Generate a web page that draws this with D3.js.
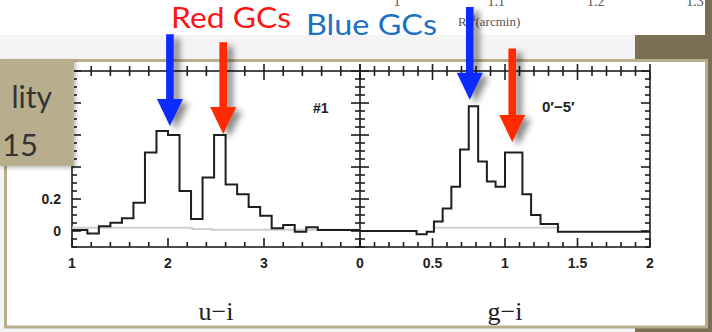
<!DOCTYPE html>
<html><head><meta charset="utf-8">
<script src="https://cdn.jsdelivr.net/npm/d3@7"></script>
<style>html,body{margin:0;padding:0;background:#f4f4f4;overflow:hidden}</style>
</head><body><svg id="c" width="712" height="332"></svg>
<script>
// ---------- data ----------
const uiEdges  = [1.0,1.16,1.28,1.40,1.52,1.64,1.76,1.88,2.00,2.12,2.24,2.36,2.48,2.60,2.72,2.84,2.96,3.08,3.20,3.32,3.44,3.56,4.0];
const uiValues = [0.006,-0.015,0.03,0.052,0.08,0.177,0.49,0.625,0.60,0.25,0.075,0.335,0.60,0.29,0.23,0.15,0.096,0.017,0.037,-0.005,0.023,0.006];
const uiBgEdges  = [1.0,2.25,2.45,4.0];
const uiBgValues = [0.02,0.012,0.008];
const giEdges  = [0,0.39,0.46,0.51,0.57,0.63,0.69,0.75,0.815,0.875,0.935,1.0,1.12,1.18,1.245,1.365,2.0];
const giValues = [0,-0.02,-0.004,0.06,0.14,0.277,0.51,0.78,0.435,0.31,0.277,0.49,0.23,0.10,0.044,-0.004];
const giBgEdges  = [0.5,1.38];
const giBgValues = [0.02];
const uiTickLabels = [1,2,3];
const giTickLabels = [0,0.5,1,1.5,2];
const yTickLabels  = [0,0.2];
const topTickLabels = ["1","1.1","1.2","1.3"];
// arrows: panel, x (data), tip y (data), top y (data), colour
const arrows = [
  {panel:"ui", x:2.02, tip:0.656, top:1.23, color:"#0a2bff"},
  {panel:"ui", x:2.575, tip:0.606, top:1.18, color:"#ff2a00"},
  {panel:"gi", x:0.757, tip:0.82, top:1.40, color:"#0a2bff"},
  {panel:"gi", x:1.05, tip:0.556, top:1.14, color:"#ff2a00"}
];

// ---------- scales ----------
const svg = d3.select("#c");
const y  = d3.scaleLinear().domain([-0.1,1.0]).range([247,71]);
const xL = d3.scaleLinear().domain([1,4]).range([72,360]);
const xR = d3.scaleLinear().domain([0,2]).range([360,650]);
const xs = {ui:xL, gi:xR};

const defs = svg.append("defs");
const f = defs.append("filter").attr("id","sh").attr("x","-100%").attr("y","-20%").attr("width","300%").attr("height","150%");
f.append("feDropShadow").attr("dx",6).attr("dy",4).attr("stdDeviation",3).attr("flood-color","#000").attr("flood-opacity",0.45);
const f2 = defs.append("filter").attr("id","sh2").attr("x","-20%").attr("y","-20%").attr("width","150%").attr("height","150%");
f2.append("feDropShadow").attr("dx",2).attr("dy",2).attr("stdDeviation",2).attr("flood-color","#000").attr("flood-opacity",0.25);

// ---------- slide background ----------
svg.append("rect").attr("x",0).attr("y",0).attr("width",712).attr("height",332).attr("fill","#f4f4f4");
svg.append("rect").attr("x",635).attr("y",0).attr("width",77).attr("height",332).attr("fill","#7b6e55");
svg.append("rect").attr("x",0).attr("y",0).attr("width",705).attr("height",35).attr("fill","#ffffff");

// upper figure remnants
const serif = "'Liberation Serif','DejaVu Serif',serif";
const topScale = d3.scaleLinear().domain([0,3]).range([397,695]);
svg.append("g").selectAll("text").data(topTickLabels).join("text")
  .attr("x",(d,i)=>topScale(i)).attr("y",6).attr("text-anchor","middle")
  .attr("font-family",serif).attr("font-size",14).attr("fill","#555").text(d=>d);
const rt = svg.append("text").attr("x",458).attr("y",26).attr("font-family",serif).attr("font-size",13).attr("fill","#555");
rt.append("tspan").text("R");
rt.append("tspan").attr("font-size",8).attr("dy",3).text("c");
rt.append("tspan").attr("font-size",8).attr("dx",-5).attr("dy",-8).text("1/4");
rt.append("tspan").attr("dy",5).text("(arcmin)");

// ---------- frame ----------
svg.append("rect").attr("x",5.5).attr("y",60.5).attr("width",701).attr("height",266.5)
  .attr("fill","#ffffff").attr("stroke","#b8ae8c").attr("stroke-width",3);

// ---------- axes ----------
const ink = "#1e1e1e";
const g = svg.append("g").attr("stroke",ink).attr("stroke-width",1.6).attr("fill","none");
g.append("rect").attr("x",72).attr("y",71).attr("width",578).attr("height",176);
g.append("line").attr("x1",360).attr("x2",360).attr("y1",71).attr("y2",247);

function xTicks(step, majorEvery, lo, hi){
  const out=[]; const n=Math.round((hi-lo)/step);
  for(let i=0;i<=n;i++){ const v=lo+i*step; out.push({v, major: i%majorEvery===0}); }
  return out;
}
const ticksL = xTicks(0.2,5,1,4);
const ticksR = xTicks(0.1,5,0,2);
[[xL,ticksL],[xR,ticksR]].forEach(([sc,tk])=>{
  tk.forEach(t=>{
    const x=sc(t.v), L=t.major?9:5;
    g.append("line").attr("x1",x).attr("x2",x).attr("y1",247).attr("y2",247-L);
    g.append("line").attr("x1",x).attr("x2",x).attr("y1",71-(t.major?7:5)).attr("y2",71+L);
  });
});
const yt=[]; for(let i=-2;i<=20;i++){ const v=i*0.05; yt.push({v, major: i%4===0}); }
yt.forEach(t=>{
  const yy=y(t.v); if(yy<71||yy>247) return; const L=t.major?9:5;
  g.append("line").attr("x1",72).attr("x2",72+L).attr("y1",yy).attr("y2",yy);
  g.append("line").attr("x1",360-L).attr("x2",360+L).attr("y1",yy).attr("y2",yy);
  g.append("line").attr("x1",650-L).attr("x2",650).attr("y1",yy).attr("y2",yy);
});

// tick labels
const sans = "'Liberation Sans',Arial,sans-serif";
const lab = svg.append("g").attr("font-family",sans).attr("font-weight","bold").attr("font-size",14).attr("fill","#222").attr("text-anchor","middle");
uiTickLabels.forEach(v=>lab.append("text").attr("x",xL(v)).attr("y",268).text(v));
giTickLabels.forEach(v=>lab.append("text").attr("x",xR(v)).attr("y",268).text(v));
yTickLabels.forEach(v=>lab.append("text").attr("x",61).attr("y",y(v)+5).attr("text-anchor","end").text(v));

// panel tags
svg.append("text").attr("x",313).attr("y",113).attr("font-family",sans).attr("font-weight","bold").attr("font-size",14).attr("fill","#222").text("#1");
svg.append("text").attr("x",542).attr("y",112).attr("font-family",sans).attr("font-weight","bold").attr("font-size",15).attr("fill","#222").text("0\u2032\u22125\u2032");

// axis titles
svg.append("text").attr("x",216).attr("y",320).attr("text-anchor","middle").attr("font-family",serif).attr("font-size",26).attr("fill","#222").text("u\u2212i");
svg.append("text").attr("x",505).attr("y",320).attr("text-anchor","middle").attr("font-family",serif).attr("font-size",26).attr("fill","#222").text("g\u2212i");

// ---------- histograms ----------
function stepPts(edges, vals){ const p=edges.slice(0,-1).map((e,i)=>[e,vals[i]]); p.push([edges[edges.length-1],vals[vals.length-1]]); return p; }
const lineL = d3.line().x(d=>xL(d[0])).y(d=>y(d[1])).curve(d3.curveStepAfter);
const lineR = d3.line().x(d=>xR(d[0])).y(d=>y(d[1])).curve(d3.curveStepAfter);
svg.append("path").attr("d",lineL(stepPts(uiBgEdges,uiBgValues))).attr("fill","none").attr("stroke","#cfcfcf").attr("stroke-width",2);
svg.append("path").attr("d",lineR(stepPts(giBgEdges,giBgValues))).attr("fill","none").attr("stroke","#cfcfcf").attr("stroke-width",2);
svg.append("path").attr("d",lineL(stepPts(uiEdges,uiValues))).attr("fill","none").attr("stroke",ink).attr("stroke-width",2);
svg.append("path").attr("d",lineR(stepPts(giEdges,giValues))).attr("fill","none").attr("stroke",ink).attr("stroke-width",2);

// ---------- left tan box ----------
svg.append("rect").attr("x",0).attr("y",59).attr("width",74).attr("height",107).attr("fill","#b8ae8e").attr("filter","url(#sh2)");
const cal = "Lato,'Open Sans',sans-serif";
svg.append("text").attr("x",52).attr("y",108).attr("text-anchor","end").attr("font-family",cal).attr("font-size",30).attr("fill","#333").text("lity");
svg.append("text").attr("x",38).attr("y",156).attr("text-anchor","end").attr("font-family",cal).attr("font-size",31).attr("fill","#333").text("15");

// ---------- arrows ----------
arrows.forEach(a=>{
  const x=xs[a.panel](a.x), tip=y(a.tip), top=y(a.top);
  const hw=13, hl=27, sw=3.8;
  const p = d3.path();
  p.moveTo(x-sw,top); p.lineTo(x+sw,top); p.lineTo(x+sw,tip-hl); p.lineTo(x+hw,tip-hl);
  p.lineTo(x,tip); p.lineTo(x-hw,tip-hl); p.lineTo(x-sw,tip-hl); p.closePath();
  svg.append("path").attr("d",p.toString()).attr("fill",a.color).attr("filter","url(#sh)");
});

// ---------- annotation labels ----------
svg.append("text").attr("x",171).attr("y",28).attr("font-family",cal).attr("font-size",28)
  .attr("textLength",120).attr("lengthAdjust","spacingAndGlyphs").attr("fill","#ff1414").text("Red GCs");
svg.append("text").attr("x",306).attr("y",35).attr("font-family",cal).attr("font-size",28)
  .attr("textLength",131).attr("lengthAdjust","spacingAndGlyphs").attr("fill","#1c70c6").text("Blue GCs");
</script></body></html>
